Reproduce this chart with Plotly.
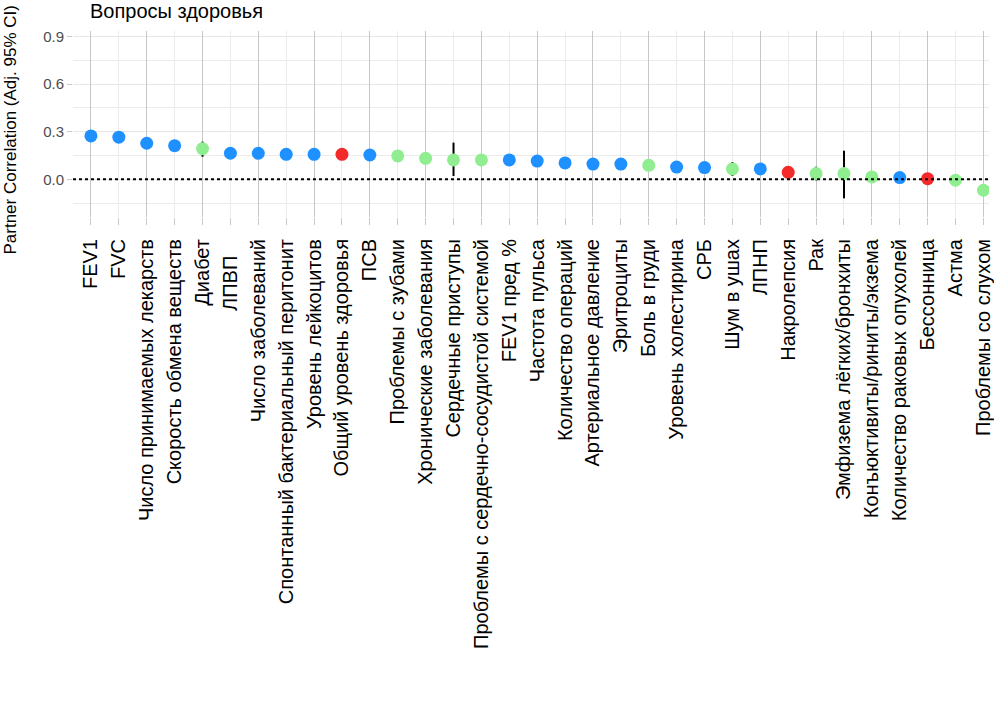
import plotly.graph_objects as go

categories = [
    "FEV1", "FVC", "Число принимаемых лекарств", "Скорость обмена веществ", "Диабет",
    "ЛПВП\u00a0\u00a0\u00a0", "Число заболеваний", "Спонтанный бактериальный перитонит", "Уровень лейкоцитов",
    "Общий уровень здоровья", "ПСВ", "Проблемы с зубами", "Хронические заболевания",
    "Сердечные приступы", "Проблемы с сердечно-сосудистой системой", "FEV1 пред %",
    "Частота пульса", "Количество операций", "Артериальное давление", "Эритроциты",
    "Боль в груди", "Уровень холестирина", "СРБ", "Шум в ушах", "ЛПНП", "Накролепсия",
    "Рак", "Эмфизема лёгких/бронхиты", "Конъюктивиты/риниты/экзема",
    "Количество раковых опухолей", "Бессонница", "Астма", "Проблемы со слухом",
]
values = [0.273, 0.265, 0.227, 0.212, 0.193, 0.164, 0.164, 0.157, 0.157, 0.157, 0.153,
          0.147, 0.132, 0.122, 0.122, 0.122, 0.115, 0.103, 0.096, 0.096, 0.088, 0.077,
          0.074, 0.065, 0.065, 0.044, 0.036, 0.036, 0.015, 0.011, 0.004, -0.006, -0.069]
lower = [0.243, 0.235, 0.197, 0.182, 0.142, 0.134, 0.134, 0.127, 0.127, 0.127, 0.123,
         0.117, 0.102, 0.021, 0.092, 0.092, 0.085, 0.073, 0.066, 0.066, 0.058, 0.047,
         0.044, 0.021, 0.035, 0.014, -0.007, -0.120, -0.015, -0.019, -0.026, -0.036, -0.099]
upper = [0.303, 0.295, 0.257, 0.242, 0.237, 0.194, 0.194, 0.187, 0.187, 0.187, 0.183,
         0.177, 0.162, 0.231, 0.152, 0.152, 0.145, 0.133, 0.126, 0.126, 0.118, 0.107,
         0.104, 0.109, 0.095, 0.074, 0.079, 0.180, 0.045, 0.041, 0.034, 0.024, -0.039]
groups = ["b", "b", "b", "b", "g", "b", "b", "b", "b", "r", "b", "g", "g", "g", "g", "b",
          "b", "b", "b", "b", "g", "b", "b", "g", "b", "r", "g", "g", "g", "b", "r", "g", "g"]
group_colors = {"b": "#1E90FF", "g": "#90EE90", "r": "#F42A2A"}

ytick_vals = [0.0, 0.3, 0.6, 0.9]
ytick_text = ["0.0", "0.3", "0.6", "0.9"]
y_minor = [-0.15, 0.15, 0.45, 0.75]

FONT = "Liberation Sans, Arial, sans-serif"
idx = list(range(len(categories)))
X_RANGE = [-0.644, 32.2]

fig = go.Figure()

# confidence intervals
fig.add_trace(go.Scatter(
    x=idx, y=values, mode="markers",
    marker=dict(size=1, color="rgba(0,0,0,0)"),
    error_y=dict(type="data", symmetric=False,
                 array=[u - v for u, v in zip(upper, values)],
                 arrayminus=[v - l for v, l in zip(values, lower)],
                 color="black", thickness=2, width=0),
    showlegend=False, hoverinfo="skip",
))

for g, col in group_colors.items():
    xs = [i for i in idx if groups[i] == g]
    fig.add_trace(go.Scatter(
        x=xs, y=[values[i] for i in xs], mode="markers",
        marker=dict(size=13, color=col, line=dict(width=0)),
        showlegend=False,
    ))

# overlay axis for darker grid lines at every second category
fig.add_trace(go.Scatter(x=[0], y=[None], xaxis="x2", mode="markers",
                         showlegend=False, hoverinfo="skip"))

fig.add_hline(y=0, line=dict(color="black", width=2, dash="dot"))

fig.update_layout(
    width=994, height=702,
    margin=dict(l=73, r=0, t=31, b=485),
    paper_bgcolor="white", plot_bgcolor="white",
    font=dict(family=FONT, color="black"),
    title=dict(text="Вопросы здоровья", font=dict(size=20, color="black", family=FONT),
               xref="container", x=90 / 994, xanchor="left",
               yref="container", y=1 - 4 / 702, yanchor="top"),
    xaxis=dict(
        range=X_RANGE, tickmode="array", tickvals=idx, ticktext=categories,
        tickangle=-90, tickfont=dict(size=20, color="black", family=FONT),
        ticklabelstandoff=6, ticklabeloverflow="allow",
        showgrid=True, gridcolor="#EBEBEB", gridwidth=1,
        ticks="outside", ticklen=7, tickcolor="#C8C8C8", tickwidth=1,
        zeroline=False, showline=False,
    ),
    xaxis2=dict(
        range=X_RANGE, overlaying="x", anchor="y", matches="x",
        tickmode="array", tickvals=idx[::2], showticklabels=False,
        showgrid=True, gridcolor="#C6C6C6", gridwidth=1, ticks="",
        zeroline=False, showline=False,
    ),
    yaxis=dict(
        range=[-0.2375, 0.934], tickmode="array", tickvals=ytick_vals, ticktext=ytick_text,
        tickfont=dict(size=15, color="#4D4D4D", family=FONT),
        showgrid=True, gridcolor="#E6E6E6", gridwidth=1,
        minor=dict(tickmode="array", tickvals=y_minor, showgrid=True,
                   gridcolor="#EBEBEB", gridwidth=1),
        ticks="outside", ticklen=5, tickcolor="#C8C8C8",
        zeroline=False, showline=False,
    ),
    annotations=[dict(
        text="Partner Correlation (Adj. 95% CI)", textangle=-90,
        xref="paper", x=0, xshift=-62, xanchor="center",
        yref="paper", y=0.465, yanchor="middle", showarrow=False,
        font=dict(size=17, color="black", family=FONT),
    )],
)

fig.write_html("out.html", config={"displayModeBar": False},
               post_script="document.body.style.margin='0';")
